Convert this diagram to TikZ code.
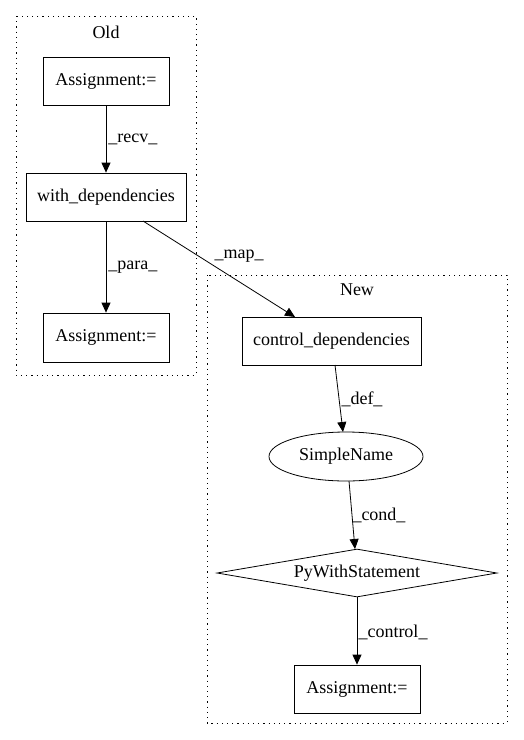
\documentclass[tikz,border=0pt]{standalone}
\usepackage{fontspec}
\setmainfont{Liberation Serif}
\usetikzlibrary{shapes.geometric,arrows.meta}
\begin{document}
\begin{tikzpicture}[x=1pt,y=-1pt,
  every node/.style={font=\fontsize{18}{20}\selectfont, inner sep=0pt},
  box/.style={draw, line width=0.8pt, rectangle, anchor=center},
  cluster/.style={line width=0.9pt, dash pattern=on 1.2pt off 4pt},
  edge/.style={line width=0.8pt, -{Triangle[length=10pt,width=9pt]}},
  lbl/.style={anchor=center}]
\useasboundingbox (0,0) rectangle (523,740);
% clusters
\draw[cluster] (16,16) rectangle (196,375);
\node[lbl] (oldl) at (106,32) {Old};
\draw[cluster] (207,275) rectangle (507,723);
\node[lbl] (newl) at (357,290) {New};
% Old nodes
\node[box, minimum width=126pt, minimum height=48pt] (a1) at (106,81) {Assignment:=};
\node[box, minimum width=160pt, minimum height=48pt] (wd) at (106,197) {with\_dependencies};
\node[box, minimum width=126pt, minimum height=49pt] (a2) at (106,337.5) {Assignment:=};
% New nodes
\node[box, minimum width=179pt, minimum height=48pt] (cd) at (331.5,341) {control\_dependencies};
\node[draw, line width=0.8pt, ellipse, minimum width=154pt, minimum height=49pt] (sn) at (346,456.5) {SimpleName};
\node[draw, line width=0.8pt, diamond, aspect=5.83, minimum width=280pt, minimum height=48pt, inner sep=0pt] (pw) at (357,573) {PyWithStatement};
\node[box, minimum width=126pt, minimum height=48pt] (a3) at (357,689) {Assignment:=};
% edges
\draw[edge] (a1) -- node[lbl, right=2pt] {\_recv\_} (wd);
\draw[edge] (wd) -- node[lbl, right=2pt] {\_para\_} (a2);
\coordinate (ms) at (143,221);
\coordinate (me) at (295,317);
\draw[edge] (ms) -- (me);
\node[lbl] (mapl) at (239,256) {\_map\_};
\coordinate (ds) at (335,365);
\coordinate (de) at (343,432);
\draw[edge] (ds) -- (de);
\node[lbl] (defl) at (362,399) {\_def\_};
\coordinate (cs) at (349,481);
\coordinate (ce) at (355,549);
\draw[edge] (cs) -- (ce);
\node[lbl] (condl) at (379,515) {\_cond\_};
\draw[edge] (pw.south) -- (a3.north);
\node[lbl] (ctrll) at (393,632) {\_control\_};
\end{tikzpicture}
\end{document}
